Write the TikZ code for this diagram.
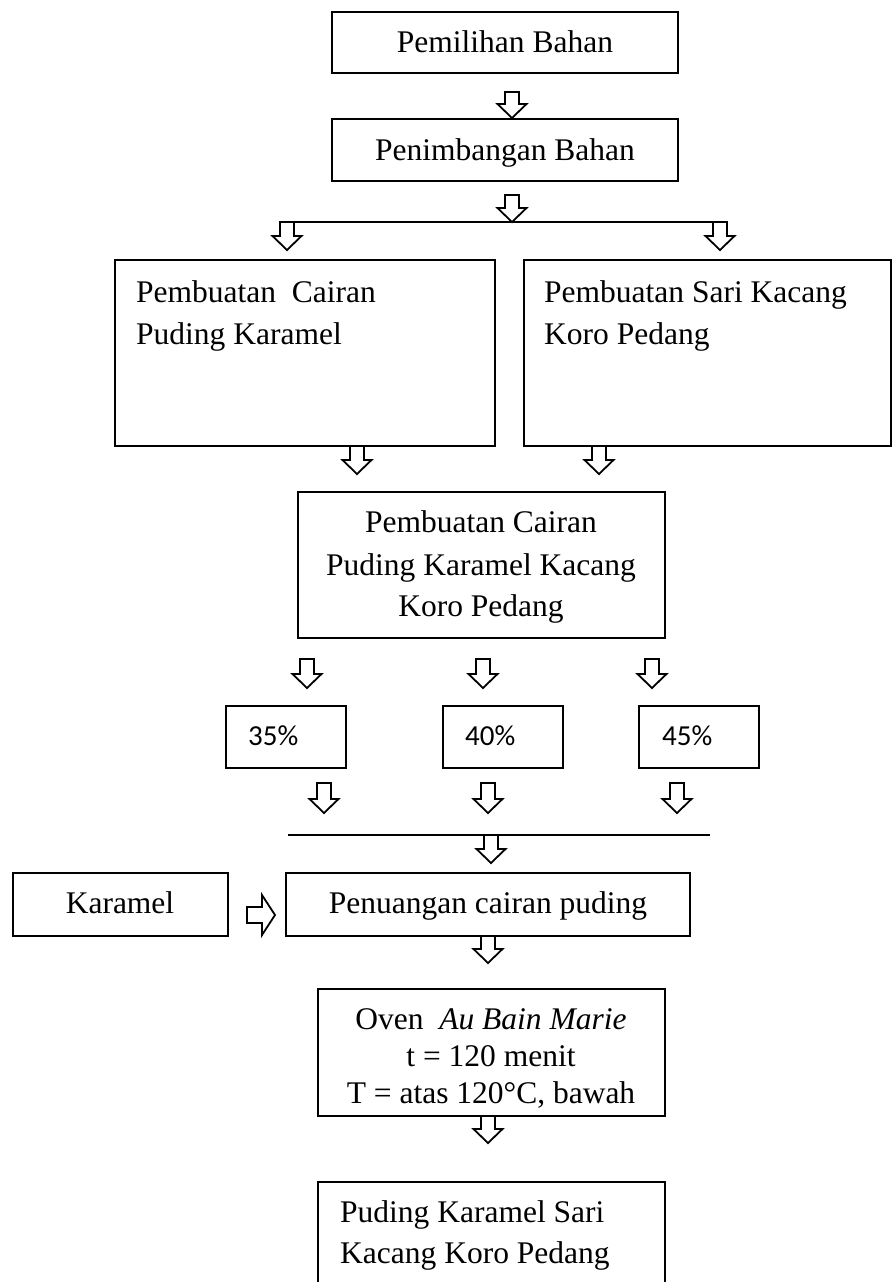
\documentclass[tikz,border=0pt]{standalone}
\usepackage{fontspec}
\setmainfont{Liberation Serif}
\newfontfamily\calfont{Carlito}
\newcommand{\DArr}[3]{%
  \draw[blockarr] ({#1-7},#2) -- ({#1+7},#2) -- ({#1+7},{#3-14}) -- ({#1+14.5},{#3-14}) -- (#1,#3) -- ({#1-14.5},{#3-14}) -- ({#1-7},{#3-14}) -- cycle;}
\newcommand{\BoxAt}[5]{%
  \node[box, minimum width={#4-#2}, minimum height={#5-#3}] (#1) at ({(#2+#4)/2},{(#3+#5)/2}) {};}
\begin{document}
\begin{tikzpicture}[x=1pt,y=-1pt,
  box/.style={draw, line width=2pt, inner sep=0pt, outer sep=0pt},
  txt/.style={inner sep=0pt, anchor=base, font=\fontsize{31.5}{37}\selectfont},
  txtl/.style={txt, anchor=base west},
  pct/.style={inner sep=0pt, anchor=base west, font=\calfont\fontsize{29}{35}\selectfont},
  blockarr/.style={draw, line width=1.8pt, fill=white, line join=miter},
  hline/.style={line width=1.4pt}]
\useasboundingbox (0,0) rectangle (893,1282);
\fill[white] (0,0) rectangle (893,1282);
\clip (0,0) rectangle (893,1282);

% boxes
\BoxAt{b1}{332}{12}{678}{73}
\BoxAt{b2}{332}{119}{678}{181}
\BoxAt{b3l}{115}{260}{495}{446}
\BoxAt{b3r}{524}{260}{891}{446}
\BoxAt{b4}{298}{492}{665}{638}
\BoxAt{p35}{226}{706}{346}{768}
\BoxAt{p40}{443}{706}{563}{768}
\BoxAt{p45}{639}{706}{759}{768}
\BoxAt{kar}{13}{873}{228}{936}
\BoxAt{pen}{286}{873}{690}{936}
\BoxAt{oven}{318}{989}{665}{1116}
\BoxAt{fin}{318}{1182}{665}{1310}

% texts
\node[txt] (t1) at (505,52) {Pemilihan Bahan};
\node[txt] (t2) at (505,160) {Penimbangan Bahan};
\node[txtl] (t3a) at (136,302) {Pembuatan\ \ Cairan};
\node[txtl] (t3b) at (136,344) {Puding Karamel};
\node[txtl] (t4a) at (544,302) {Pembuatan Sari Kacang};
\node[txtl] (t4b) at (544,344) {Koro Pedang};
\node[txt] (t5a) at (481,532) {Pembuatan Cairan};
\node[txt] (t5b) at (481,575) {Puding Karamel Kacang};
\node[txt] (t5c) at (481,616) {Koro Pedang};
\node[pct] (t35) at (248,745) {35\%};
\node[pct] (t40) at (465,745) {40\%};
\node[pct] (t45) at (662,745) {45\%};
\node[txt] (tk) at (120,913) {Karamel};
\node[txt] (tp) at (488,913) {Penuangan cairan puding};
\node[txt] (to1) at (491,1029) {Oven\ \ \textit{Au Bain Marie}};
\node[txt] (to2) at (491,1066) {t = 120 menit};
\node[txt] (to3) at (491,1103) {T = atas 120°C, bawah};
\node[txtl] (tf1) at (340,1222) {Puding Karamel Sari};
\node[txtl] (tf2) at (340,1263) {Kacang Koro Pedang};

% horizontal lines
\coordinate (l1a) at (283,222);
\coordinate (l1b) at (722,222);
\draw[hline] (l1a) -- (l1b);
\coordinate (l2a) at (288,835);
\coordinate (l2b) at (710,835);
\draw[hline] (l2a) -- (l2b);

% block arrows
\DArr{512}{92}{118}
\DArr{512}{195}{222}
\DArr{287}{222}{250}
\DArr{720}{222}{250}
\DArr{357}{446}{474}
\DArr{599}{446}{474}
\DArr{307}{659}{688}
\DArr{483}{659}{688}
\DArr{652}{659}{688}
\DArr{324}{783}{813}
\DArr{488}{783}{813}
\DArr{677}{783}{813}
\DArr{491}{835}{863}
\DArr{488}{936}{963}
\DArr{488}{1116}{1143}
\draw[blockarr] (247,907) -- (262,907) -- (262,895) -- (275,915) -- (262,935) -- (262,923) -- (247,923) -- cycle;
\end{tikzpicture}
\end{document}
